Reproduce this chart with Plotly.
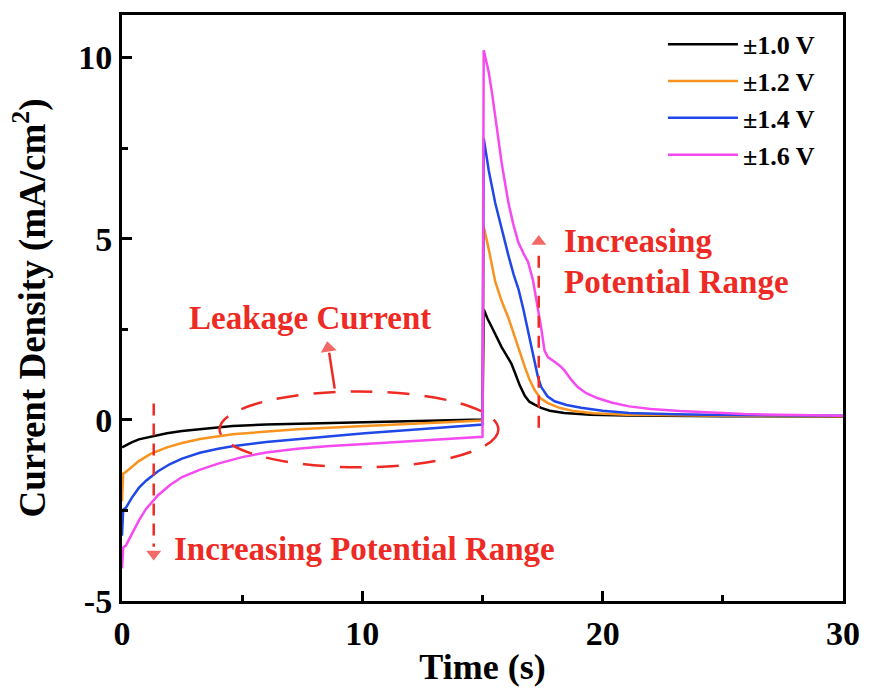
import plotly.graph_objects as go

# ---- data ----
t_10 = [0, 0.2, 0.4, 0.7, 1.19, 1.87, 2.5, 3.24, 4.6, 6.0, 7.3, 10.1, 12.8, 15.0,
        15.05, 15.2, 15.4, 15.6, 15.8, 16.0, 16.2, 16.35, 16.55, 16.76, 16.95, 17.17, 17.44, 17.8, 18.4, 19.5, 21, 25, 30]
j_10 = [-0.76, -0.68, -0.62, -0.54, -0.47, -0.37, -0.31, -0.26, -0.17, -0.13, -0.11, -0.06, -0.02, 0.01,
        3.05, 2.8, 2.54, 2.27, 2.0, 1.78, 1.55, 1.3, 0.95, 0.66, 0.5, 0.42, 0.33, 0.25, 0.19, 0.14, 0.12, 0.10, 0.09]

t_12 = [0, 0.05, 0.16, 0.4, 0.7, 1.19, 1.87, 2.5, 3.24, 4.6, 6.0, 7.3, 10.1, 12.8, 15.0,
        15.05, 15.26, 15.53, 15.8, 16.08, 16.35, 16.55, 16.76, 16.95, 17.17, 17.4, 17.72, 18.2, 18.8, 19.6, 21, 25, 30]
j_12 = [-2.25, -1.48, -1.44, -1.30, -1.14, -0.94, -0.76, -0.64, -0.53, -0.40, -0.32, -0.26, -0.17, -0.08, -0.02,
        5.33, 4.71, 3.81, 3.27, 2.81, 2.27, 1.85, 1.46, 1.12, 0.82, 0.6, 0.46, 0.33, 0.24, 0.18, 0.14, 0.11, 0.10]

t_14 = [0, 0.05, 0.16, 0.4, 0.7, 1.0, 1.5, 2.0, 2.5, 3.24, 4.0, 4.6, 6.0, 7.3, 8.7, 10.1, 12.8, 15.0,
        15.05, 15.26, 15.53, 15.8, 16.08, 16.3, 16.5, 16.7, 16.9, 17.05, 17.17, 17.3, 17.44, 17.7, 18.0, 18.5, 19.1, 20, 21.1, 23, 25, 30]
j_14 = [-3.2, -2.48, -2.43, -2.16, -1.88, -1.68, -1.42, -1.22, -1.07, -0.91, -0.80, -0.73, -0.61, -0.53, -0.45, -0.37, -0.24, -0.13,
        7.77, 6.88, 5.98, 5.25, 4.53, 4.0, 3.6, 3.05, 2.45, 1.95, 1.55, 1.2, 0.91, 0.65, 0.51, 0.41, 0.33, 0.25, 0.19, 0.15, 0.13, 0.11]

t_16 = [0, 0.05, 0.16, 0.4, 0.7, 1.0, 1.5, 2.0, 2.5, 3.2, 4.0, 5.0, 6.0, 7.3, 8.5, 10.1, 12.8, 15.0,
        15.05, 15.15, 15.26, 15.4, 15.53, 15.65, 15.8, 15.95, 16.08, 16.28, 16.49, 16.7, 16.9, 17.1, 17.3, 17.45, 17.58,
        17.72, 18.0, 18.2, 18.4, 18.7, 18.95, 19.3, 19.77, 20.4, 21.1, 22, 23.2, 24.5, 25.9, 28, 30]
j_16 = [-4.1, -3.52, -3.47, -3.15, -2.78, -2.46, -2.08, -1.80, -1.58, -1.39, -1.21, -1.03, -0.90, -0.80, -0.73, -0.67, -0.55, -0.47,
        10.2, 9.9, 9.59, 9.0, 8.42, 7.8, 7.07, 6.45, 5.98, 5.4, 4.9, 4.6, 4.35, 3.85, 3.1, 2.5, 1.91,
        1.73, 1.6, 1.5, 1.37, 1.1, 0.91, 0.74, 0.6, 0.47, 0.37, 0.3, 0.24, 0.2, 0.16, 0.13, 0.11]

series_names = ["±1.0 V", "±1.2 V", "±1.4 V", "±1.6 V"]
series_t = [t_10, t_12, t_14, t_16]
series_j = [j_10, j_12, j_14, j_16]
series_colors = ["#000000", "#f7931e", "#1f48e6", "#f54af0"]

x_ticks = [0, 10, 20, 30]
y_ticks = [-5, 0, 5, 10]

RED = "#ee2a24"
FONT = "Liberation Serif, Times New Roman, serif"

fig = go.Figure()
for name, t, j, c in zip(series_names, series_t, series_j, series_colors):
    fig.add_trace(go.Scatter(x=t, y=j, mode="lines", name=f"<b>{name}</b>",
                             line=dict(color=c, width=2.5)))

# dashed ellipse around leakage region
fig.add_shape(type="circle", xref="x", yref="y", x0=4.06, x1=15.66, y0=-1.31, y1=0.78,
              line=dict(color=RED, width=2.5, dash="22px,15px"))
# left dashed arrow (down)
fig.add_shape(type="line", xref="x", yref="y", x0=1.32, x1=1.32, y0=0.45, y1=-3.5,
              line=dict(color=RED, width=2.5, dash="12px,8px"))
# right dashed arrow (up)
fig.add_shape(type="line", xref="x", yref="y", x0=17.34, x1=17.34, y0=-0.22, y1=4.7,
              line=dict(color=RED, width=2.5, dash="12px,8px"))
# leakage arrow shaft
fig.add_shape(type="line", xref="x", yref="y", x0=8.85, y0=0.86, x1=8.62, y1=1.85,
              line=dict(color=RED, width=2.5))
# arrow heads
fig.add_trace(go.Scatter(x=[1.32, 17.34, 8.58], y=[-3.7, 4.92, 1.98], mode="markers",
                         marker=dict(symbol=["triangle-down", "triangle-up", "triangle-up"],
                                     size=[13, 13, 14], color=RED, angle=[0, 0, -9],
                                     line=dict(width=0)),
                         showlegend=False, hoverinfo="skip"))

txt_font = dict(family=FONT, size=33, color=RED)
fig.add_annotation(x=7.83, y=2.81, xref="x", yref="y", text="<b>Leakage Current</b>",
                   showarrow=False, font=txt_font, xanchor="center", yanchor="middle")
fig.add_annotation(x=2.09, y=-3.56, xref="x", yref="y", text="<b>Increasing Potential Range</b>",
                   showarrow=False, font=txt_font, xanchor="left", yanchor="middle")
fig.add_annotation(x=18.32, y=4.93, xref="x", yref="y", text="<b>Increasing</b>",
                   showarrow=False, font=txt_font, xanchor="left", yanchor="middle")
fig.add_annotation(x=18.32, y=3.81, xref="x", yref="y", text="<b>Potential Range</b>",
                   showarrow=False, font=txt_font, xanchor="left", yanchor="middle")

axis_common = dict(showline=True, linewidth=3, linecolor="black", mirror=True,
                   ticks="inside", ticklen=10, tickwidth=3, tickcolor="black",
                   showgrid=False, zeroline=False,
                   tickfont=dict(family=FONT, size=34, color="black"))

fig.update_xaxes(range=[0, 30], tickvals=x_ticks, ticktext=[f"<b>{v}</b>" for v in x_ticks],
                 minor=dict(ticks="inside", ticklen=6, tickwidth=3, tickcolor="black", dtick=5),
                 title=dict(text="<b>Time (s)</b>", font=dict(family=FONT, size=36, color="black"), standoff=4),
                 **axis_common)
fig.update_yaxes(range=[-5, 11.17], tickvals=y_ticks, ticktext=[f"<b>{v}</b>" for v in y_ticks],
                 minor=dict(ticks="inside", ticklen=6, tickwidth=3, tickcolor="black", dtick=2.5),
                 title=dict(text="<b>Current Density (mA/cm<sup>2</sup>)</b>",
                            font=dict(family=FONT, size=37, color="black"), standoff=22),
                 **axis_common)

fig.update_layout(
    width=872, height=693,
    margin=dict(l=122, r=19, t=12, b=85),
    paper_bgcolor="white", plot_bgcolor="white",
    showlegend=True,
    legend=dict(x=0.968, y=0.99, xanchor="right", yanchor="top", bgcolor="rgba(0,0,0,0)",
                font=dict(family=FONT, size=26, color="black"), itemwidth=70,
                tracegroupgap=0),
)

fig.write_html("out.html")
